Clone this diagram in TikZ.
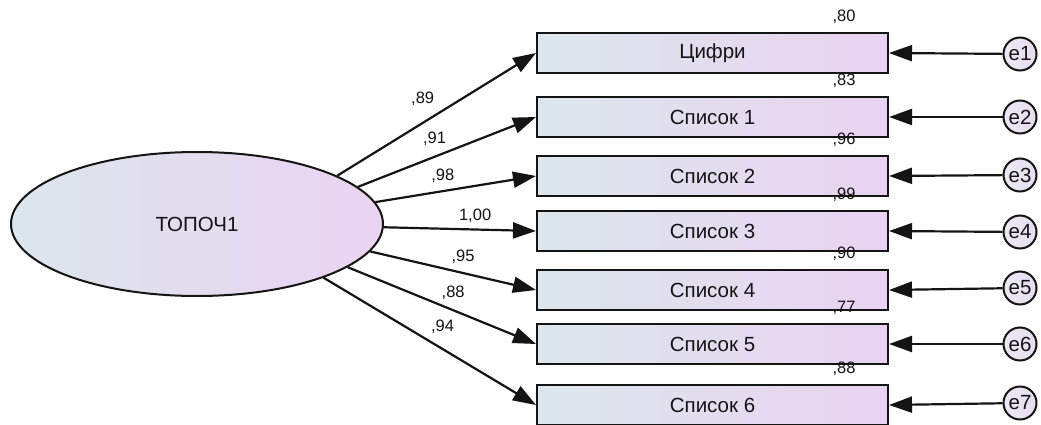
\documentclass[tikz,border=0pt]{standalone}
\usepackage{fontspec}
\setmainfont{Liberation Sans}
\usetikzlibrary{arrows.meta,positioning,shapes.geometric}
\definecolor{semInk}{HTML}{141414}
\definecolor{semLeft}{HTML}{DCE6EC}
\definecolor{semRight}{HTML}{EAD3F2}
\definecolor{semErr}{HTML}{E6DDF0}
\tikzset{
  every picture/.style={font=\fontsize{20.5}{23}\selectfont, text=semInk},
  sem obs/.style={draw=semInk, line width=2pt, rectangle, inner sep=0pt,
    minimum width=351pt, minimum height=40pt,
    left color=semLeft, right color=semRight},
  sem latent/.style={ellipse, draw=semInk, line width=2pt, inner sep=0pt,
    minimum width=372pt, minimum height=144pt,
    left color=semLeft, right color=semRight},
  sem err/.style={circle, draw=semInk, line width=2pt, inner sep=0pt,
    minimum size=33pt, left color=semErr!70!white, right color=semErr},
  sem arrow/.style={-{Triangle[length=23pt,width=16pt]},
    draw=semInk, line width=2.2pt},
  sem coef/.style={font=\fontsize{16.5}{18}\selectfont, inner sep=1pt}
}

\begin{document}
\begin{tikzpicture}[x=1pt,y=-1pt]
  \useasboundingbox (0,0) rectangle (1041,425);
  % latent factor
  \node[sem latent] (topo) at (197,224) {ТОПОЧ1};
  % indicators, errors and squared correlations
  \foreach \n/\y/\ey/\txt/\rsq in {1/53/54/Цифри/{,80}, 2/117/117/Список 1/{,83},
      3/176/175/Список 2/{,96}, 4/231/232/Список 3/{,99}, 5/290/288/Список 4/{,90},
      6/344/344/Список 5/{,77}, 7/405/403/Список 6/{,88}} {
    \node[sem obs] (x\n) at (712.5,\y) {\txt};
    \node[sem err] (e\n) at (1020,\ey) {e\n};
    \node[sem coef] (r\n) at ([xshift=-45pt,yshift=15pt]x\n.north east) {\rsq};
    \draw[sem arrow] (e\n) -- (x\n.east);
  }
  % loadings
  \foreach \n/\ang/\p/\d/\load in {1/19/0.43/24/{,89}, 2/13/0.43/18/{,91},
      3/7/0.42/15/{,98}, 4/-1/0.6/14/{1,00}, 5/-9/0.56/16/{,95},
      6/-16/0.56/17/{,88}, 7/-23/0.56/22/{,94}} {
    \draw[sem arrow] (topo.\ang) -- (x\n.west)
      node[sem coef, pos=\p, yshift=\d pt] (l\n) {\load};
  }
\end{tikzpicture}
\end{document}
